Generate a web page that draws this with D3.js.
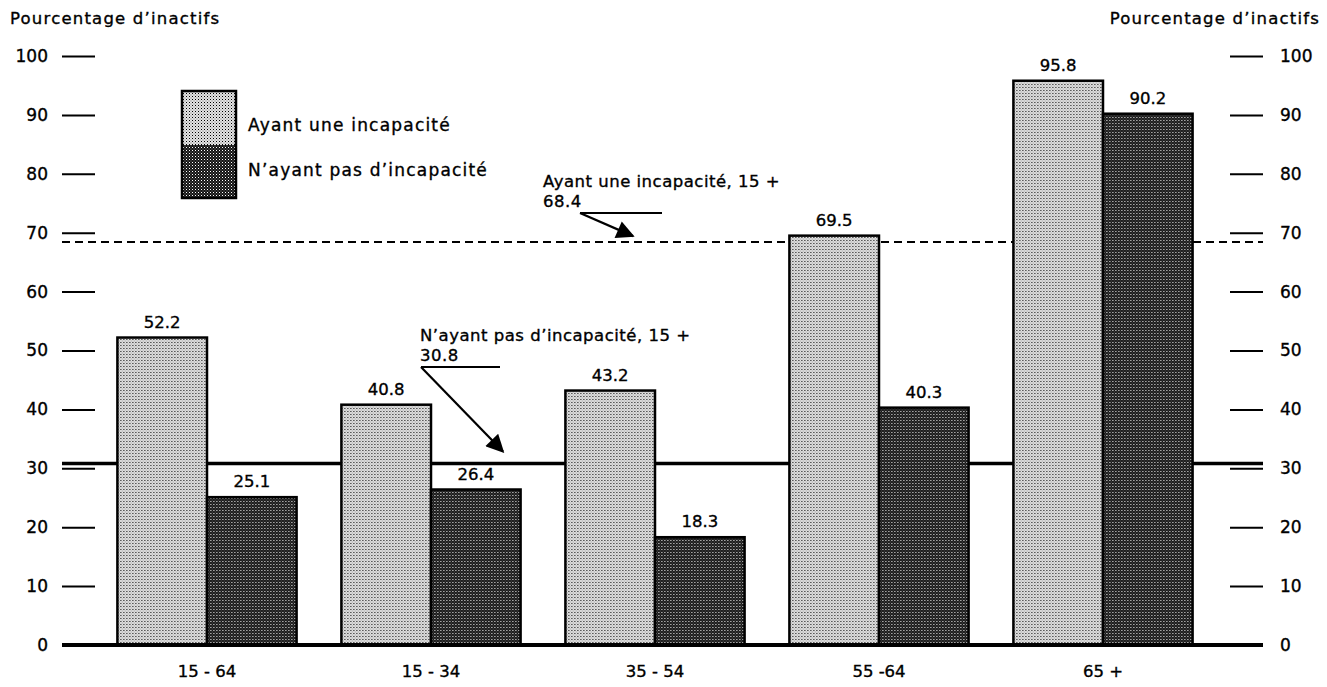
<!DOCTYPE html>
<html><head><meta charset="utf-8">
<script src="https://cdn.jsdelivr.net/npm/d3@7"></script>
<style>
body{margin:0;background:#fff;}
text{font-family:"DejaVu Sans","Noto Sans",sans-serif;fill:#000;stroke:#000;stroke-width:0.35px;}
</style></head>
<body><svg id="chart" width="1327" height="687"></svg>
<script>
const categories = ["15 - 64", "15 - 34", "35 - 54", "55 -64", "65 +"];
const seriesNames = ["Ayant une incapacité", "N’ayant pas d’incapacité"];
const withDisability = [52.2, 40.8, 43.2, 69.5, 95.8];
const withoutDisability = [25.1, 26.4, 18.3, 40.3, 90.2];
const yTicks = [0, 10, 20, 30, 40, 50, 60, 70, 80, 90, 100];
const refWith = 68.4;
const refWithout = 30.8;
const refWithLabel = ["Ayant une incapacité, 15 +", "68.4"];
const refWithoutLabel = ["N’ayant pas d’incapacité, 15 +", "30.8"];
const axisTitle = "Pourcentage d’inactifs";

const svg = d3.select("#chart");
const defs = svg.append("defs");
function dotPattern(id, bg, dot) {
  const p = defs.append("pattern").attr("id", id).attr("patternUnits", "userSpaceOnUse")
    .attr("width", 3).attr("height", 3);
  p.append("rect").attr("width", 3).attr("height", 3).attr("fill", bg);
  p.append("rect").attr("x", 0).attr("y", 0).attr("width", 1).attr("height", 1).attr("fill", dot);
  p.append("rect").attr("x", 1.5).attr("y", 1.5).attr("width", 1).attr("height", 1).attr("fill", dot).attr("opacity", 0.5);
}
dotPattern("light", "#e4e4e4", "#000");
dotPattern("dark", "#141414", "#fff");
const fills = ["url(#light)", "url(#dark)"];

const y = d3.scaleLinear().domain([0, 100]).range([645, 56]);
const x0 = d3.scaleBand().domain(categories).range([95, 1215]).paddingInner(0.2).paddingOuter(0.1);
const x1 = d3.scaleBand().domain([0, 1]).range([0, x0.bandwidth()]);

// left axis
const leftAxis = d3.axisLeft(y).tickValues(yTicks).tickSize(33).tickPadding(14).tickFormat(d3.format("d"));
const gl = svg.append("g").attr("transform", "translate(95,0)").call(leftAxis);
gl.select(".domain").remove();
gl.selectAll(".tick line").attr("stroke", "#000").attr("stroke-width", 2);
gl.selectAll(".tick text").attr("font-size", 17).attr("font-family", "DejaVu Sans");

const rightAxis = d3.axisRight(y).tickValues(yTicks).tickSize(33).tickPadding(17).tickFormat(d3.format("d"));
const gr = svg.append("g").attr("transform", "translate(1230,0)").call(rightAxis);
gr.select(".domain").remove();
gr.selectAll(".tick line").attr("stroke", "#000").attr("stroke-width", 2);
gr.selectAll(".tick text").attr("font-size", 17).attr("font-family", "DejaVu Sans");

// axis titles
svg.append("text").attr("x", 10).attr("y", 24).attr("font-size", 16.5).attr("letter-spacing", 1.2).text(axisTitle);
svg.append("text").attr("x", 1320).attr("y", 24).attr("text-anchor", "end").attr("font-size", 16.5).attr("letter-spacing", 1.2).text(axisTitle);

// reference lines (behind bars)
svg.append("line").attr("x1", 62).attr("x2", 1263).attr("y1", y(refWith)).attr("y2", y(refWith))
  .attr("stroke", "#000").attr("stroke-width", 2).attr("stroke-dasharray", "8,5");
svg.append("line").attr("x1", 62).attr("x2", 1263).attr("y1", y(refWithout)).attr("y2", y(refWithout))
  .attr("stroke", "#000").attr("stroke-width", 3.5);

// bars
const series = [withDisability, withoutDisability];
const groups = svg.append("g").selectAll("g").data(categories).join("g")
  .attr("transform", d => `translate(${x0(d)},0)`);
groups.selectAll("rect").data((d, i) => series.map((s, k) => ({k, v: s[i]}))).join("rect")
  .attr("x", d => x1(d.k)).attr("width", x1.bandwidth())
  .attr("y", d => y(d.v)).attr("height", d => y(0) - y(d.v))
  .attr("fill", d => fills[d.k]).attr("stroke", "#000").attr("stroke-width", 2.5);
groups.selectAll("text.val").data((d, i) => series.map((s, k) => ({k, v: s[i]}))).join("text")
  .attr("class", "val").attr("text-anchor", "middle")
  .attr("x", d => x1(d.k) + x1.bandwidth() / 2).attr("y", d => y(d.v) - 10)
  .attr("font-size", 16.5).text(d => d.v.toFixed(1));

// baseline
svg.append("line").attr("x1", 62).attr("x2", 1263).attr("y1", y(0)).attr("y2", y(0))
  .attr("stroke", "#000").attr("stroke-width", 4);

// category labels
svg.append("g").selectAll("text").data(categories).join("text")
  .attr("x", d => x0(d) + x0.bandwidth() / 2).attr("y", 677).attr("text-anchor", "middle")
  .attr("font-size", 16.5).text(d => d);

// legend
const lg = svg.append("g");
lg.append("rect").attr("x", 182).attr("y", 91).attr("width", 54).attr("height", 54).attr("fill", fills[0]);
lg.append("rect").attr("x", 182).attr("y", 145).attr("width", 54).attr("height", 53).attr("fill", fills[1]);
lg.append("rect").attr("x", 182).attr("y", 91).attr("width", 54).attr("height", 107).attr("fill", "none").attr("stroke", "#000").attr("stroke-width", 2.5);
lg.selectAll("text").data(seriesNames).join("text")
  .attr("x", 248).attr("y", (d, i) => 131 + i * 45).attr("font-size", 17).attr("letter-spacing", 1.2).text(d => d);

// annotations
const arrowDefs = defs.append("marker").attr("id", "arrow").attr("viewBox", "0 0 10 10")
  .attr("refX", 9).attr("refY", 5).attr("markerWidth", 20).attr("markerHeight", 18)
  .attr("markerUnits", "userSpaceOnUse").attr("orient", "auto");
arrowDefs.append("path").attr("d", "M0,0 L10,5 L0,10 z").attr("fill", "#000");

function annotate(lines, tx, ty, lx, hx2, tipX, tipY) {
  lines.forEach((l, i) => svg.append("text").attr("x", tx).attr("y", ty + i * 20)
    .attr("font-size", 16.5).attr("letter-spacing", 0.5).text(l));
  const ly = ty + 26;
  svg.append("line").attr("x1", lx).attr("x2", hx2).attr("y1", ly).attr("y2", ly).attr("stroke", "#000").attr("stroke-width", 2);
  svg.append("line").attr("x1", lx).attr("y1", ly).attr("x2", tipX).attr("y2", tipY)
    .attr("stroke", "#000").attr("stroke-width", 2.2).attr("marker-end", "url(#arrow)");
}
annotate(refWithLabel, 543, 187, 580, 662, 633, y(refWith) - 6);
annotate(refWithoutLabel, 420, 341, 421, 500, 503, y(refWithout) - 12);
</script></body></html>
